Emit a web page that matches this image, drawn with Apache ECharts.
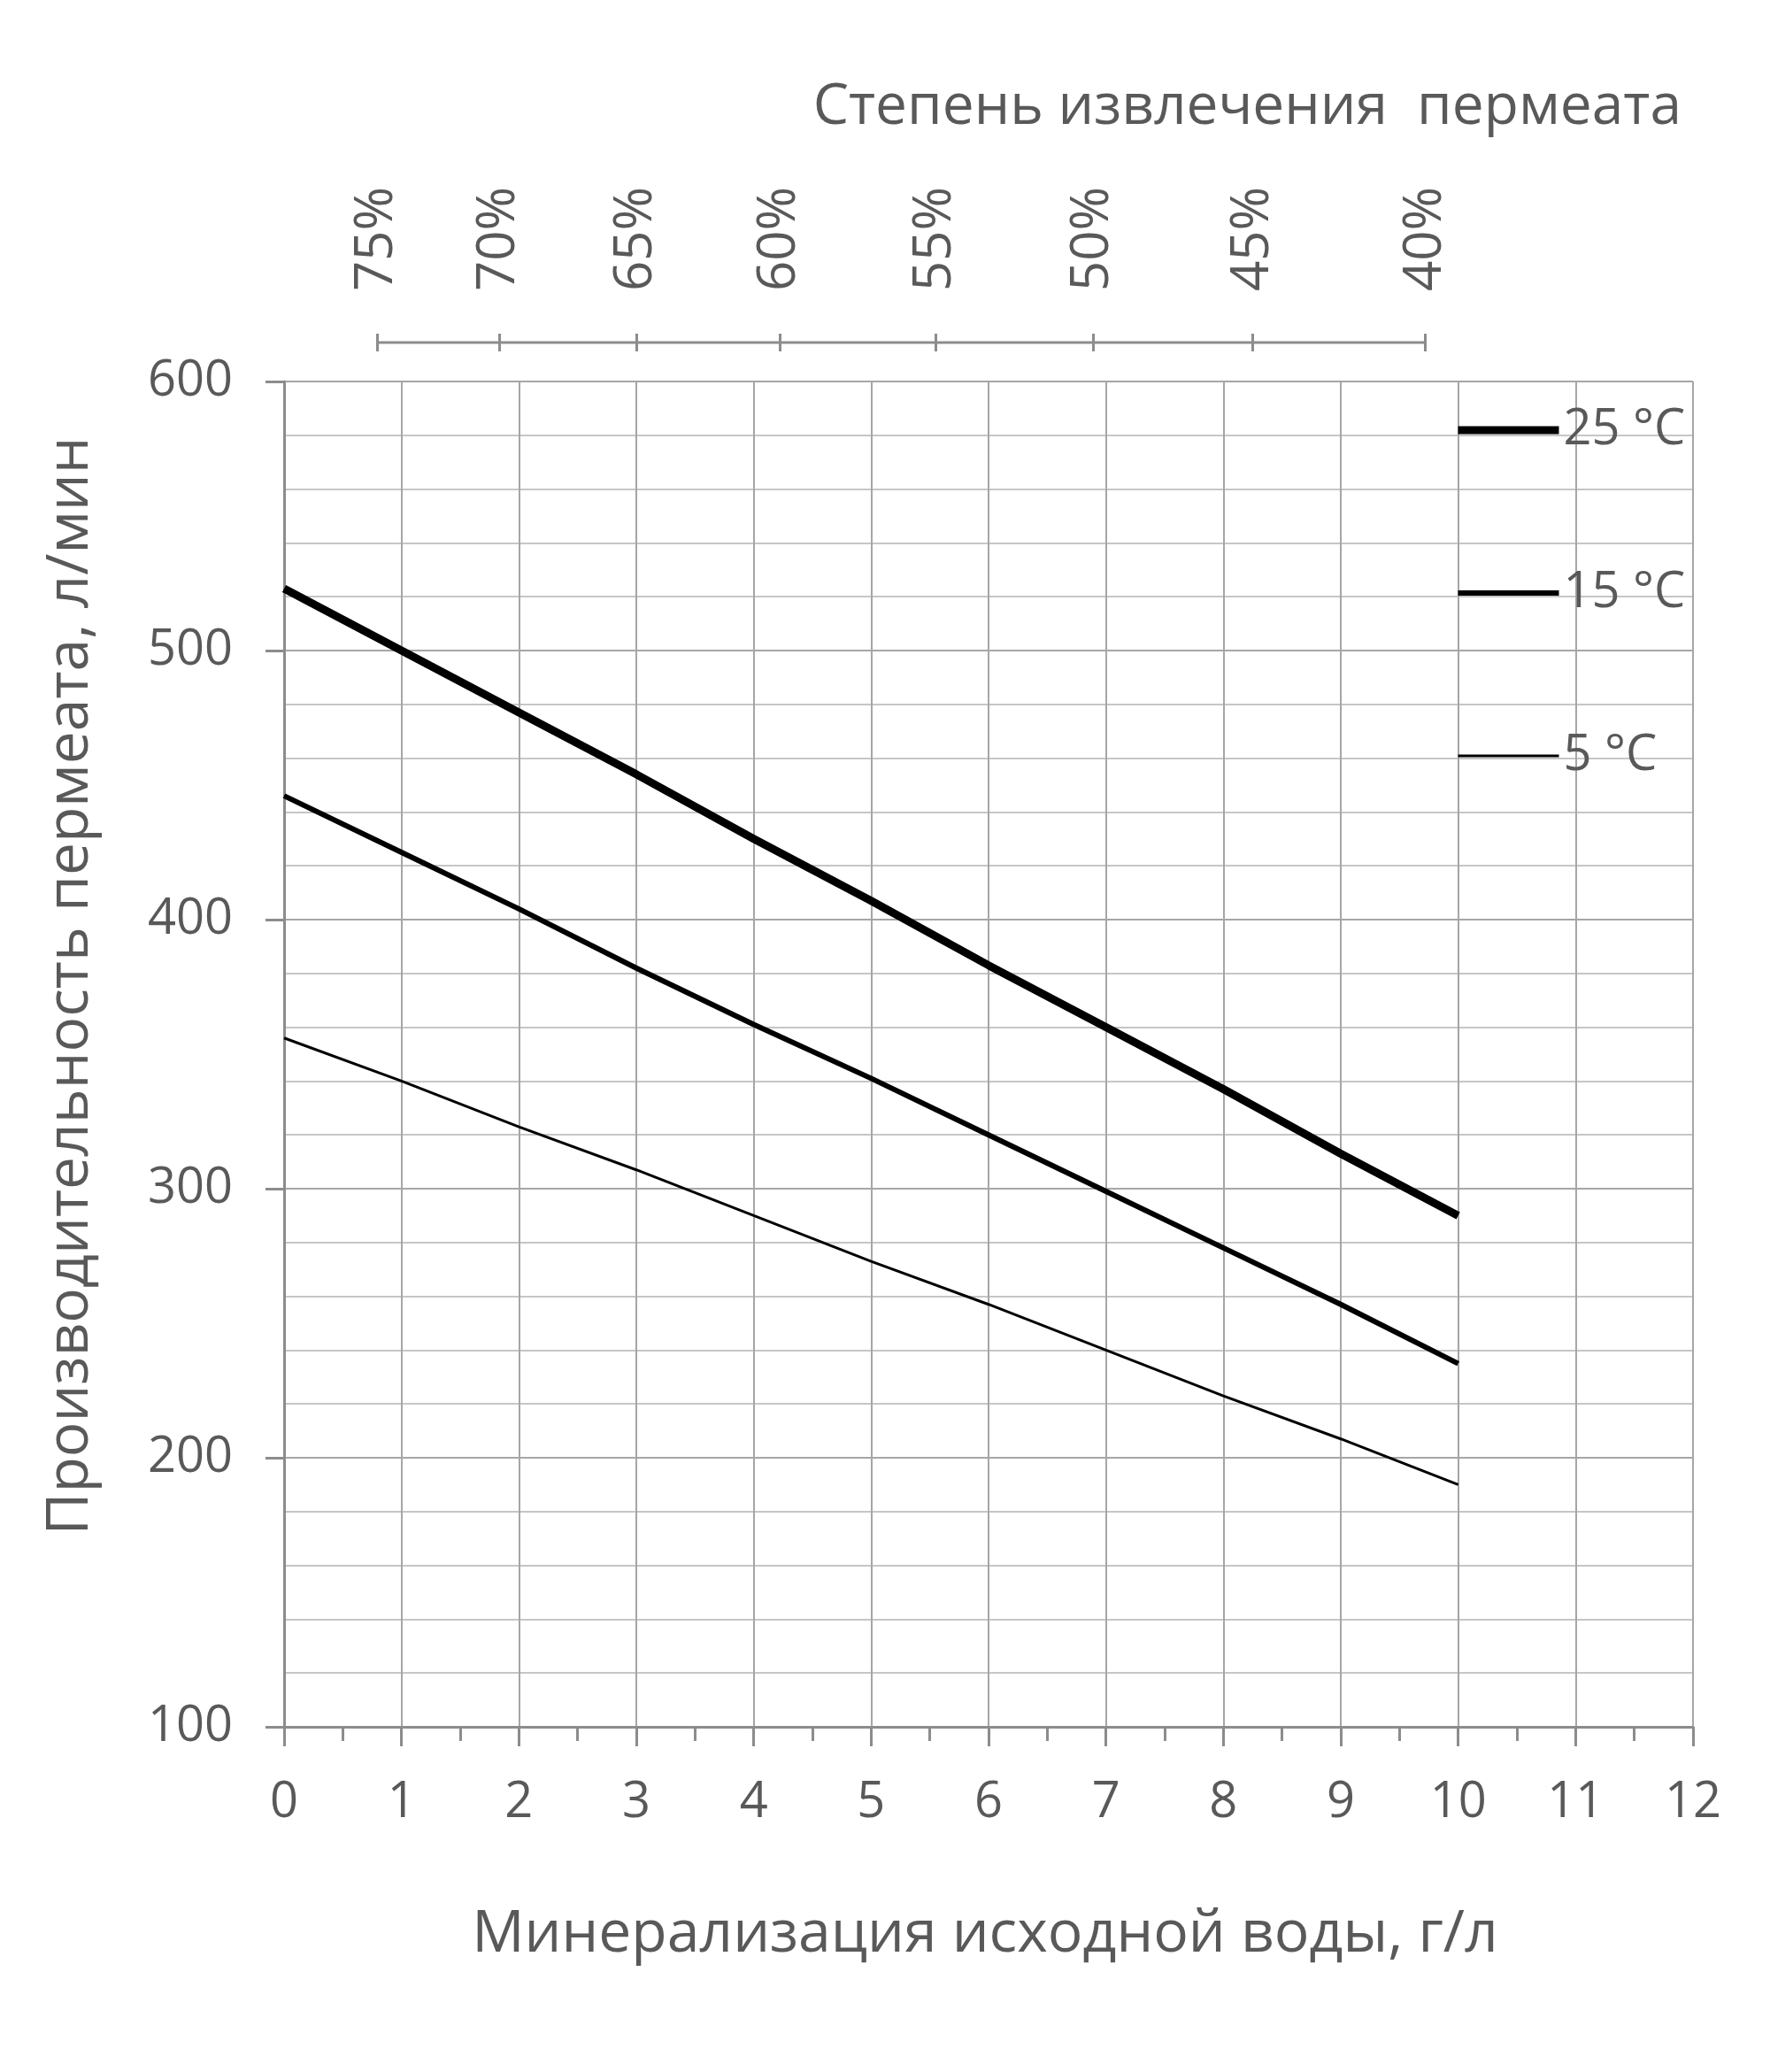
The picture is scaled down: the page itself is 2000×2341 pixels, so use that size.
<!DOCTYPE html>
<html>
<head>
<meta charset="utf-8">
<script src="https://cdn.jsdelivr.net/npm/echarts@6/dist/echarts.min.js"></script>
<style>
  html, body { margin: 0; padding: 0; background: #fff; }
  #chart { width: 2000px; height: 2341px; }
</style>
</head>
<body>
<div id="chart"></div>
<script>
// mineralization of feed water, g/l
const mineralization = [0, 1, 2, 3, 4, 5, 6, 7, 8, 9, 10];
// permeate output, l/min
const flow25 = [523, 500, 477, 454, 430, 407, 383, 360, 337, 313, 290];
const flow15 = [446, 425, 404, 382, 361, 341, 320, 299, 278, 257, 235];
const flow5 = [356, 340, 323, 307, 290, 273, 257, 240, 223, 207, 190];
const seriesNames = ['25 °C', '15 °C', '5 °C'];

// recovery scale on top, placed at mineralization values
const recoveryLabels = ['75%', '70%', '65%', '60%', '55%', '50%', '45%', '40%'];
const recoveryPos = [0.79, 1.83, 3.0, 4.22, 5.55, 6.89, 8.25, 9.72];

const textColor = '#595959';
const font = '"Open Sans", "Noto Sans", sans-serif';

const pairs = (ys) => mineralization.map((x, i) => [x, ys[i]]);

const chart = echarts.init(document.getElementById('chart'));

const lineWidths = [9, 6, 3];

chart.setOption({
  animation: false,
  backgroundColor: '#ffffff',
  textStyle: { fontFamily: font },
  grid: [
    { left: 321, right: 87, top: 431, bottom: 390 },
    { left: 321, right: 87, top: 387, height: 10 }
  ],
  xAxis: [
    {
      type: 'value',
      gridIndex: 0,
      min: 0,
      max: 12,
      interval: 1,
      axisLine: { lineStyle: { color: '#8c8c8c', width: 3 } },
      axisTick: { length: 22, lineStyle: { color: '#8c8c8c', width: 3 } },
      minorTick: { show: true, splitNumber: 2, length: 16, lineStyle: { color: '#8c8c8c', width: 3 } },
      splitLine: { show: true, lineStyle: { color: '#a6a6a6', width: 2 } },
      axisLabel: { color: textColor, fontSize: 56, fontFamily: font, margin: 58 }
    },
    {
      type: 'value',
      gridIndex: 1,
      position: 'top',
      min: 0,
      max: 12,
      axisLine: { show: false },
      splitLine: { show: false },
      axisTick: {
        show: true,
        customValues: recoveryPos,
        length: 20,
        lineStyle: { color: '#8c8c8c', width: 3 }
      },
      axisLabel: {
        customValues: recoveryPos,
        rotate: 90,
        margin: 58,
        color: textColor,
        fontSize: 60,
        fontFamily: font,
        formatter: (v) => {
          const i = recoveryPos.indexOf(v);
          return i >= 0 ? recoveryLabels[i] : '';
        }
      }
    }
  ],
  yAxis: [
    {
      type: 'value',
      gridIndex: 0,
      min: 100,
      max: 600,
      interval: 100,
      axisLine: { show: true, lineStyle: { color: '#8c8c8c', width: 3 } },
      axisTick: { show: true, length: 21, lineStyle: { color: '#8c8c8c', width: 3 } },
      splitLine: { show: true, lineStyle: { color: '#a6a6a6', width: 2 } },
      minorTick: { show: false, splitNumber: 5 },
      minorSplitLine: { show: true, lineStyle: { color: '#c6c6c9', width: 2 } },
      axisLabel: { color: textColor, fontSize: 56, fontFamily: font, margin: 58 }
    },
    {
      type: 'value',
      gridIndex: 1,
      min: 0,
      max: 1,
      show: false
    }
  ],
  legend: {
    orient: 'vertical',
    left: 1643,
    top: 458,
    padding: 0,
    itemWidth: 114,
    itemHeight: 60,
    itemGap: 128,
    itemStyle: { opacity: 0 },
    data: seriesNames.map((n, i) => ({
      name: n,
      lineStyle: { color: '#000', width: lineWidths[i] }
    })),
    textStyle: { color: textColor, fontSize: 56, fontFamily: font }
  },
  graphic: [
    {
      type: 'text',
      right: 100,
      top: 90,
      style: { text: 'Степень извлечения  пермеата', fill: textColor, font: '64px ' + font }
    },
    {
      type: 'text',
      x: 80,
      y: 1114,
      rotation: Math.PI / 2,
      style: {
        text: 'Производительность пермеата, л/мин',
        fill: textColor,
        font: '66px ' + font,
        align: 'center',
        verticalAlign: 'middle'
      }
    },
    {
      type: 'text',
      x: 1113,
      y: 2186,
      style: {
        text: 'Минерализация исходной воды, г/л',
        fill: textColor,
        font: '66px ' + font,
        align: 'center',
        verticalAlign: 'middle'
      }
    }
  ],
  series: [
    {
      name: seriesNames[0], type: 'line', data: pairs(flow25), symbol: 'none',
      lineStyle: { color: '#000', width: lineWidths[0] }, itemStyle: { color: '#000' }
    },
    {
      name: seriesNames[1], type: 'line', data: pairs(flow15), symbol: 'none',
      lineStyle: { color: '#000', width: lineWidths[1] }, itemStyle: { color: '#000' }
    },
    {
      name: seriesNames[2], type: 'line', data: pairs(flow5), symbol: 'none',
      lineStyle: { color: '#000', width: lineWidths[2] }, itemStyle: { color: '#000' }
    },
    {
      name: 'recovery-axis', type: 'line', xAxisIndex: 1, yAxisIndex: 1, silent: true, clip: false,
      data: [[recoveryPos[0], 1], [recoveryPos[recoveryPos.length - 1], 1]],
      symbol: 'none', lineStyle: { color: '#8c8c8c', width: 3 }
    }
  ]
});
</script>
</body>
</html>
